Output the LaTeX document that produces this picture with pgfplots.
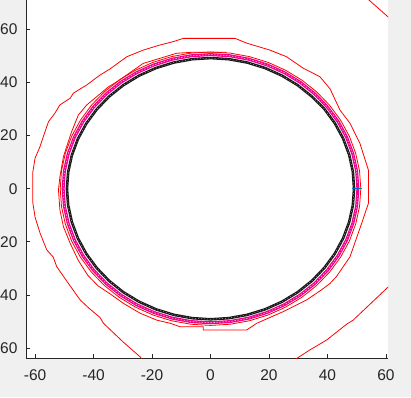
\documentclass[border=0pt]{standalone}
\usepackage{pgfplots}
\pgfplotsset{compat=1.18}
\usepackage{fontspec}
\setmainfont{Liberation Sans}
\definecolor{figgray}{RGB}{240,240,240}
\definecolor{axgray}{RGB}{38,38,38}
\definecolor{mblue}{RGB}{0,114,189}
\begin{document}
\begin{tikzpicture}[x=1pt,y=1pt]
\path[use as bounding box, fill=figgray] (0,0) rectangle (411,397);
\clip (0,0) rectangle (411,397);
\begin{axis}[
  at={(26pt,39pt)}, anchor=south west,
  scale only axis, width=362pt, height=358.2pt,
  xmin=-63.1, xmax=60.7, ymin=-63.65, ymax=71,
  axis x line*=bottom, axis y line*=left,
  axis line style={-, axgray, line width=0.8pt},
  xtick={-60,-40,-20,0,20,40,60},
  ytick={-60,-40,-20,0,20,40,60},
  tick align=inside, major tick length=4pt,
  tick style={axgray, line width=0.8pt},
  tick label style={font=\fontsize{15.5}{18}\selectfont, text=axgray},
  /pgf/number format/assume math mode=true,
  xticklabel style={yshift=-8pt},
  yticklabel style={xshift=-5pt},
  axis background/.style={fill=white},
]
% black ring
\addplot[black!90, line width=2.6pt] coordinates {
(49.10,0) (48.68,6.43) (47.42,12.76) (45.35,18.87) (42.49,24.65) (38.91,30.01) (34.66,34.66) (29.81,38.91) (24.45,42.49) (18.67,45.35) (12.56,47.42) (6.23,48.68) (0,49.10)
(-6.23,48.68) (-12.56,47.42) (-18.67,45.35) (-24.45,42.49) (-29.81,38.91) (-34.66,34.66) (-38.91,29.81) (-42.49,24.45) (-45.35,18.67) (-47.42,12.56) (-48.68,6.23) (-49.10,0)
(-48.68,-6.23) (-47.42,-12.56) (-45.35,-18.67) (-42.49,-24.45) (-38.91,-29.81) (-34.66,-34.66) (-29.81,-38.91) (-24.45,-42.49) (-18.67,-45.35) (-12.56,-47.42) (-6.23,-48.68) (0,-49.10)
(6.23,-48.68) (12.56,-47.42) (18.67,-45.35) (24.45,-42.49) (29.81,-38.91) (34.66,-34.66) (38.91,-29.81) (42.49,-24.45) (45.35,-18.67) (47.42,-12.56) (48.68,-6.23) (49.10,0)
};
\addplot[gray!70, line width=0.5pt, dash pattern=on 1pt off 2pt] coordinates {
(49.10,0) (48.68,6.43) (47.42,12.76) (45.35,18.87) (42.49,24.65) (38.91,30.01) (34.66,34.66) (29.81,38.91) (24.45,42.49) (18.67,45.35) (12.56,47.42) (6.23,48.68) (0,49.10)
(-6.23,48.68) (-12.56,47.42) (-18.67,45.35) (-24.45,42.49) (-29.81,38.91) (-34.66,34.66) (-38.91,29.81) (-42.49,24.45) (-45.35,18.67) (-47.42,12.56) (-48.68,6.23) (-49.10,0)
(-48.68,-6.23) (-47.42,-12.56) (-45.35,-18.67) (-42.49,-24.45) (-38.91,-29.81) (-34.66,-34.66) (-29.81,-38.91) (-24.45,-42.49) (-18.67,-45.35) (-12.56,-47.42) (-6.23,-48.68) (0,-49.10)
(6.23,-48.68) (12.56,-47.42) (18.67,-45.35) (24.45,-42.49) (29.81,-38.91) (34.66,-34.66) (38.91,-29.81) (42.49,-24.45) (45.35,-18.67) (47.42,-12.56) (48.68,-6.23) (49.10,0)
};
% magenta ring
\addplot[magenta, line width=3pt] coordinates {
(50.40,0) (49.97,6.58) (48.68,13.04) (46.56,19.29) (43.65,25.20) (39.98,30.68) (35.64,35.64) (30.68,39.98) (25.20,43.65) (19.29,46.56) (13.04,48.68) (6.58,49.97) (0,50.40)
(-6.58,49.97) (-13.04,48.68) (-19.29,46.56) (-25.20,43.65) (-30.68,39.98) (-35.64,35.64) (-39.98,30.68) (-43.65,25.20) (-46.56,19.29) (-48.68,13.04) (-49.97,6.58) (-50.40,0)
(-49.97,-6.58) (-48.68,-13.04) (-46.56,-19.29) (-43.65,-25.20) (-39.98,-30.68) (-35.64,-35.64) (-30.68,-39.98) (-25.20,-43.65) (-19.29,-46.56) (-13.04,-48.68) (-6.58,-49.97) (0,-50.40)
(6.58,-49.97) (13.04,-48.68) (19.29,-46.56) (25.20,-43.65) (30.68,-39.98) (35.64,-35.64) (39.98,-30.68) (43.65,-25.20) (46.56,-19.29) (48.68,-13.04) (49.97,-6.58) (50.40,0)
};
\addplot[magenta!30!white, line width=0.6pt, dash pattern=on 1.5pt off 1.5pt] coordinates {
(50.40,0) (49.97,6.58) (48.68,13.04) (46.56,19.29) (43.65,25.20) (39.98,30.68) (35.64,35.64) (30.68,39.98) (25.20,43.65) (19.29,46.56) (13.04,48.68) (6.58,49.97) (0,50.40)
(-6.58,49.97) (-13.04,48.68) (-19.29,46.56) (-25.20,43.65) (-30.68,39.98) (-35.64,35.64) (-39.98,30.68) (-43.65,25.20) (-46.56,19.29) (-48.68,13.04) (-49.97,6.58) (-50.40,0)
(-49.97,-6.58) (-48.68,-13.04) (-46.56,-19.29) (-43.65,-25.20) (-39.98,-30.68) (-35.64,-35.64) (-30.68,-39.98) (-25.20,-43.65) (-19.29,-46.56) (-13.04,-48.68) (-6.58,-49.97) (0,-50.40)
(6.58,-49.97) (13.04,-48.68) (19.29,-46.56) (25.20,-43.65) (30.68,-39.98) (35.64,-35.64) (39.98,-30.68) (43.65,-25.20) (46.56,-19.29) (48.68,-13.04) (49.97,-6.58) (50.40,0)
};
% inner red ring
\addplot[red, line width=0.8pt] coordinates {
(51.4,0) (50.96,6.71) (49.65,13.30) (47.49,19.67) (44.51,25.70) (40.78,31.29) (36.35,36.35) (31.29,40.78) (25.70,44.51) (19.67,47.49) (13.30,49.65) (6.71,50.96) (0,51.4)
(-6.71,50.96) (-13.30,49.65) (-19.67,47.49) (-25.70,44.51) (-31.29,40.78) (-36.35,36.35) (-40.78,31.29) (-44.51,25.70) (-47.49,19.67) (-49.65,13.30) (-50.96,6.71) (-51.4,0)
(-50.96,-6.71) (-49.65,-13.30) (-47.49,-19.67) (-44.51,-25.70) (-40.78,-31.29) (-36.35,-36.35) (-31.29,-40.78) (-25.70,-44.51) (-19.67,-47.49) (-13.30,-49.65) (-6.71,-50.96) (0,-51.4)
(6.71,-50.96) (13.30,-49.65) (19.67,-47.49) (25.70,-44.51) (31.29,-40.78) (36.35,-36.35) (40.78,-31.29) (44.51,-25.70) (47.49,-19.67) (49.65,-13.30) (50.96,-6.71) (51.4,0)
};
% outer red spiral
\addplot[red, line width=0.8pt] coordinates {
(-23.0,-64.5) (-24.1,-63.2) (-30.0,-57.5) (-36.6,-50.6) (-37.8,-48.4) (-41.5,-45.0) (-44.6,-41.8) (-48.6,-35.6) (-52.6,-29.3) (-53.8,-25.7) (-56.0,-23.0) (-58.3,-16.7) (-60.0,-10.7) (-60.8,-5.0) (-60.8,6.0) (-60.0,11.5) (-58.3,15.8) (-57.2,19.5) (-55.4,25.2) (-53.2,28.4) (-51.5,31.5) (-48.0,34.0) (-46.9,35.9) (-42.3,39.0) (-40.0,40.9) (-37.8,42.7) (-34.4,45.0) (-28.6,49.6) (-23.0,52.1) (-17.3,54.0) (-12.7,55.3) (-9.3,56.5) (8.4,56.5) (12.4,54.7) (20.3,52.1) (26.0,49.6) (31.7,45.3) (37.4,42.1) (40.9,37.5) (44.3,29.5) (47.7,24.6) (51.1,17.0) (54.0,7.0) (54.0,-5.5) (51.7,-13.0) (47.7,-25.6) (43.1,-33.0) (40.9,-35.6) (38.0,-38.0) (32.9,-41.8) (24.9,-46.2) (15.8,-50.6) (12.4,-53.1) (-2.5,-53.1) (-2.5,-51.9) (-10.4,-51.9) (-13.8,-50.6) (-18.4,-49.4) (-24.1,-46.8) (-29.8,-43.1) (-34.4,-39.5) (-38.5,-36.5) (-42.0,-32.5) (-45.2,-27.0) (-48.0,-20.5) (-50.3,-14.3) (-51.5,-8.0) (-52.0,-0.5) (-51.5,4.5) (-50.3,12.0) (-49.2,15.8) (-47.5,21.4) (-45.2,27.7) (-42.3,31.5) (-38.9,34.6) (-34.9,38.3) (-32.0,40.2) (-23.0,47.1) (-17.3,49.0) (-11.6,50.9) (-5.9,51.3) (5.5,51.3)
};
% bottom-right diagonal
\addplot[red, line width=0.8pt] coordinates {
(28.8,-64.5) (29.5,-63.8) (34.0,-60.6) (39.7,-56.9) (46.6,-50.9) (48.8,-49.4) (60.5,-37.2) (61.5,-36.3)
};
% top-right diagonal
\addplot[red, line width=0.8pt] coordinates {
(53.8,71.5) (54.2,70.9) (60.7,64.6) (61.5,63.8)
};
% marker
\addplot[mblue, only marks, mark=+, mark size=5pt, line width=1.2pt] coordinates {(50.2,0)};
\end{axis}
\end{tikzpicture}
\end{document}
